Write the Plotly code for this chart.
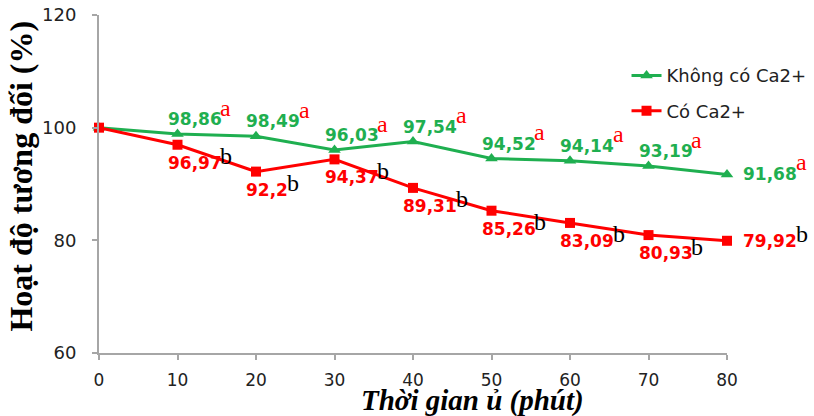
import plotly.graph_objects as go

times = [0, 10, 20, 30, 40, 50, 60, 70, 80]
khong_ca = [100, 98.86, 98.49, 96.03, 97.54, 94.52, 94.14, 93.19, 91.68]
co_ca = [100, 96.97, 92.2, 94.37, 89.31, 85.26, 83.09, 80.93, 79.92]
khong_lbl = ["98,86", "98,49", "96,03", "97,54", "94,52", "94,14", "93,19", "91,68"]
co_lbl = ["96,97", "92,2", "94,37", "89,31", "85,26", "83,09", "80,93", "79,92"]
y_ticks = [60, 80, 100, 120]
x_ticks = times

GREEN = "#1FAF50"
RED = "#FF0000"

fig = go.Figure()
fig.add_trace(go.Scatter(
    x=times, y=khong_ca, mode="lines+markers", name="Không có Ca2+",
    line=dict(color=GREEN, width=3),
    marker=dict(symbol="triangle-up", size=11, color=GREEN),
    cliponaxis=False, legendgroup="g1"))
fig.add_trace(go.Scatter(
    x=times, y=co_ca, mode="lines+markers", name="Có Ca2+",
    line=dict(color=RED, width=3),
    marker=dict(symbol="square", size=10, color=RED),
    cliponaxis=False, legendgroup="g2"))

NUM_SIZE = 17
LET_SIZE = 24


def text_width(s, size):
    # approximate advance widths of DejaVu Sans Bold
    w = 0.0
    for ch in s:
        w += 0.38 if ch == "," else 0.696
    return w * size


annotations = []


def add_label(t, v, num, letter, num_color, let_color, dx, dy, rise):
    annotations.append(dict(
        x=t, y=v, xref="x", yref="y", showarrow=False, text=f"<b>{num}</b>",
        font=dict(family="DejaVu Sans", size=NUM_SIZE, color=num_color),
        xanchor="left", yanchor="middle", xshift=dx, yshift=dy))
    annotations.append(dict(
        x=t, y=v, xref="x", yref="y", showarrow=False, text=letter,
        font=dict(family="Liberation Serif", size=LET_SIZE, color=let_color),
        xanchor="left", yanchor="middle",
        xshift=dx + text_width(num, NUM_SIZE) - 1, yshift=dy + rise))


n = len(khong_lbl)
for i, (t, v, s) in enumerate(zip(times[1:], khong_ca[1:], khong_lbl)):
    last = i == n - 1
    add_label(t, v, s, "a", GREEN, RED,
              14 if last else -12, 1 if last else 15, 11.5)
for i, (t, v, s) in enumerate(zip(times[1:], co_ca[1:], co_lbl)):
    last = i == n - 1
    add_label(t, v, s, "b", RED, "#000000",
              14 if last else -12, 0 if last else -18, 6.5)

# axis titles
annotations.append(dict(
    x=0.5955, y=0, xref="paper", yref="paper", showarrow=False,
    text="<b><i>Thời gian ủ (phút)</i></b>",
    font=dict(family="Liberation Serif", size=29, color="#000000"),
    xanchor="center", yanchor="middle", yshift=-47))
annotations.append(dict(
    x=0, y=0.522, xref="paper", yref="paper", showarrow=False,
    text="<b>Hoạt độ tương đối (%)</b>", textangle=-90,
    font=dict(family="Liberation Serif", size=32, color="#000000"),
    xanchor="center", yanchor="middle", xshift=-78))

fig.update_layout(
    width=814, height=416,
    margin=dict(l=99, r=87, t=15, b=63, autoexpand=False),
    paper_bgcolor="white", plot_bgcolor="white",
    showlegend=True,
    legend=dict(x=0.84, y=0.875, xanchor="left", yanchor="top",
                font=dict(family="DejaVu Sans", size=18, color="#222222"),
                tracegroupgap=9, traceorder="grouped",
                bgcolor="rgba(0,0,0,0)"),
    annotations=annotations,
)
fig.update_xaxes(
    range=[0, 80], tickvals=x_ticks, ticktext=[str(t) for t in x_ticks],
    showline=True, linecolor="#A6A6A6", linewidth=2,
    ticks="outside", ticklen=5, tickcolor="#A6A6A6", tickwidth=2,
    showgrid=False, zeroline=False, ticklabelstandoff=6,
    tickfont=dict(family="DejaVu Sans", size=17, color="#222222"),
    automargin=False)
fig.update_yaxes(
    range=[60, 120], tickvals=y_ticks,
    showline=True, linecolor="#A6A6A6", linewidth=2,
    ticks="outside", ticklen=5, tickcolor="#A6A6A6", tickwidth=2,
    showgrid=False, zeroline=False, ticklabelstandoff=12,
    tickfont=dict(family="DejaVu Sans", size=18, color="#222222"),
    automargin=False)

fig.write_html("out.html")
